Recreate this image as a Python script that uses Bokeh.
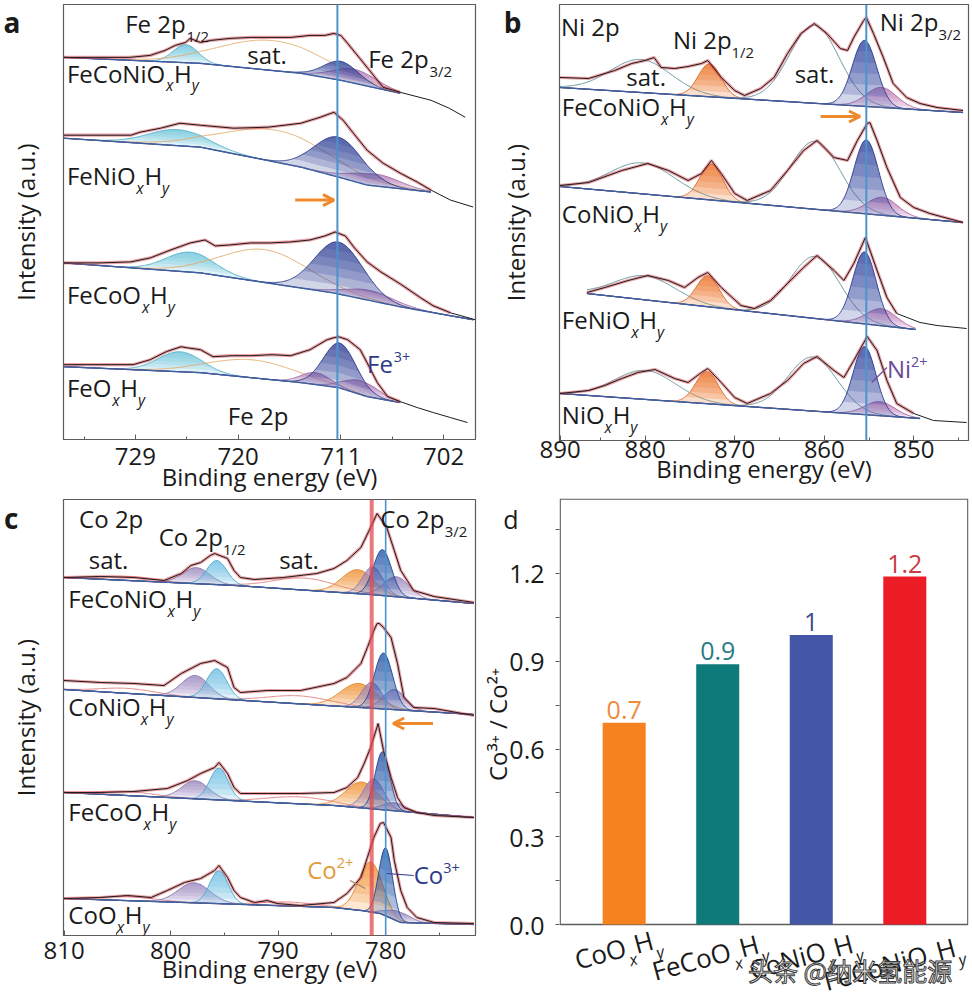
import numpy as np
from math import cos, sin, radians, pi
from bokeh.plotting import figure
from bokeh.layouts import row, column
from bokeh.models import Range1d, FixedTicker, Label, Span, Arrow, OpenHead, PrintfTickFormatter
from bokeh.embed import file_html
from bokeh.resources import INLINE

FONT = "Open Sans"
CJK_FONT = "Noto Sans CJK SC"
INK = "#1a1a1a"
FRAME = "#5c5c5c"
ORANGE = "#EE8A2C"
NBSP = "\u00a0"

# ------------------------------------------------------------------ data
# Panel a : Fe 2p  (binding energy eV, intensity a.u.)
A_SAMPLES = ["FeCoNiO", "FeNiO", "FeCoO", "FeO"]
A_LABEL_Y = [358, 255, 136, 43]
A1_DATA = [(735.3, 383), (732.1, 383), (729.5, 383), (727.7, 385), (726.4, 390), (725.5, 395), (724.6, 398),
           (724.2, 402), (723.3, 398), (722.4, 400), (720.7, 402), (718.9, 403), (717.2, 403), (715.4, 403),
           (713.7, 405), (712.4, 405), (711.6, 407), (711.0, 405), (710.4, 397), (708.7, 373), (707.3, 353),
           (705.8, 348), (703.1, 340), (701.5, 332), (700.1, 323)]
A1_BASE = [(735.3, 383), (723.3, 377), (714.5, 367), (711.0, 360), (705.8, 347)]
A1_PEAKS = [("fe_cyan", 724.6, 18, 2.6), ("fe_sat", 717.0, 30, 11.0), ("fe_pink", 709.8, 14, 4.5),
            ("fe_main", 711.0, 19, 3.6)]
A2_DATA = [(735.3, 305), (732.1, 305), (729.4, 305), (728.6, 308), (726.8, 312), (725.1, 317), (723.3, 315),
           (720.4, 312), (717.4, 313), (714.5, 317), (712.8, 323), (711.6, 328), (710.8, 320), (709.9, 307),
           (708.7, 290), (707.3, 277), (705.8, 267), (704.3, 258), (703.1, 250), (701.4, 240), (699.4, 233)]
A2_BASE = [(735.3, 302), (723.3, 293), (714.5, 273), (711.2, 263), (708.7, 255), (703.1, 248)]
A2_PEAKS = [("fe_cyan", 725.3, 16, 6.0), ("fe_sat", 716.5, 32, 11.0), ("fe_pink", 708.0, 12, 5.0),
            ("fe_main", 711.2, 40, 5.0)]
A3_DATA = [(735.3, 177), (732.1, 177), (729.4, 178), (727.7, 182), (725.9, 190), (724.2, 197), (722.9, 200),
           (722.0, 194), (720.7, 195), (718.9, 197), (717.2, 197), (715.4, 198), (713.7, 200), (712.4, 204),
           (711.5, 208), (710.6, 204), (709.8, 192), (708.7, 178), (707.5, 168), (705.8, 156), (704.0, 142),
           (702.9, 134), (701.4, 127), (699.2, 120)]
A3_BASE = [(735.3, 177), (723.3, 167), (711.7, 147), (705.8, 133), (699.4, 120)]
A3_PEAKS = [("fe_cyan", 724.2, 20, 5.0), ("fe_sat", 717.6, 33, 9.0), ("fe_pink", 708.5, 10, 5.0),
            ("fe_main", 711.2, 52, 5.0)]
A4_DATA = [(735.3, 75), (732.0, 75), (729.2, 75), (727.7, 80), (726.3, 88), (725.0, 93), (724.5, 92), (723.3, 90),
           (722.2, 83), (720.5, 84), (718.9, 84), (717.0, 85), (715.4, 84), (713.7, 90), (712.2, 100), (711.6, 102),
           (711.2, 103), (710.4, 100), (709.3, 90), (708.7, 77), (707.8, 57), (706.9, 43), (705.8, 38), (704.3, 32),
           (702.9, 27), (701.4, 22), (699.9, 17)]
A4_BASE = [(735.3, 73), (723.3, 67), (714.5, 57), (711.2, 52), (708.7, 43), (705.8, 37)]
A4_PEAKS = [("fe_cyan", 725.1, 20, 4.5), ("fe_sat", 718.7, 18, 9.0), ("fe_pink", 713.2, 12, 3.0),
            ("fe_pink", 709.2, 14, 3.5), ("fe_main", 711.1, 45, 3.4)]
A_TICKS = [729, 720, 711, 702]
A_MINOR = [733.5, 724.5, 715.5, 706.5]
A_LINE = 711.3

# Panel b : Ni 2p
B_SAMPLES = ["FeCoNiO", "CoNiO", "FeNiO", "NiO"]
B_LABEL_Y = [325, 218, 112, 17]
B1_DATA = [(889.5, 363), (886.3, 362), (883.4, 370), (881.5, 377), (880.0, 380), (879.0, 383), (878.2, 373),
           (876.7, 372), (875.2, 374), (873.7, 377), (873.0, 380), (871.5, 363), (870.0, 350), (868.9, 345),
           (867.1, 352), (865.6, 363), (864.1, 387), (862.6, 407), (861.1, 417), (859.7, 407), (858.2, 392),
           (857.4, 390), (856.7, 403), (855.6, 420), (855.3, 423), (854.5, 407), (853.4, 383), (852.3, 357),
           (850.8, 343), (849.3, 337), (847.4, 333), (844.5, 330)]
B1_BASE = [(889.5, 353), (844.5, 328)]
B1_PEAKS = [("ni_sat", 880.5, 33, 8.0), ("ni_orange", 872.8, 33, 3.0), ("ni_sat", 861.1, 78, 6.5),
            ("ni_pink", 853.6, 20, 4.0), ("ni_main", 855.5, 66, 3.2)]
B2_DATA = [(889.5, 255), (886.3, 258), (882.6, 270), (879.7, 277), (877.4, 270), (875.2, 260), (873.7, 267),
           (872.6, 280), (871.5, 267), (870.0, 247), (868.6, 240), (866.0, 250), (864.1, 270), (862.3, 290),
           (860.8, 300), (858.9, 283), (857.4, 280), (856.3, 300), (855.2, 317), (854.9, 318), (854.1, 300),
           (853.0, 273), (851.5, 243), (850.0, 233), (848.2, 227), (844.5, 218)]
B2_BASE = [(889.5, 254), (844.5, 218)]
B2_PEAKS = [("ni_sat", 880.3, 31, 8.5), ("ni_orange", 872.6, 36, 3.0), ("ni_sat", 861.0, 68, 6.5),
            ("ni_pink", 853.5, 18, 4.0), ("ni_main", 855.3, 74, 3.2)]
B3_DATA = [(886.5, 148), (884.5, 153), (881.9, 160), (879.7, 165), (877.4, 160), (875.6, 153), (874.1, 163),
           (873.0, 168), (871.5, 153), (869.3, 135), (867.8, 132), (866.0, 140), (864.1, 157), (862.3, 173),
           (860.8, 185), (858.9, 170), (857.8, 160), (856.7, 177), (855.4, 203), (854.1, 170), (853.0, 143),
           (851.9, 127), (849.3, 118), (847.4, 115), (844.1, 112)]
B3_BASE = [(886.5, 147), (849.8, 111)]
B3_PEAKS = [("ni_sat", 880.0, 24, 8.0), ("ni_orange", 873.0, 31, 3.0), ("ni_sat", 861.0, 62, 6.5),
            ("ni_pink", 853.6, 17, 4.0), ("ni_main", 855.5, 72, 3.1)]
B4_DATA = [(889.5, 47), (886.3, 50), (884.5, 55), (882.6, 62), (880.8, 68), (878.9, 71), (876.7, 62), (875.2, 58),
           (873.7, 68), (873.0, 72), (871.5, 58), (870.0, 43), (868.6, 37), (866.0, 47), (864.1, 60), (862.3, 77),
           (860.8, 84), (858.9, 70), (857.8, 63), (856.7, 80), (855.2, 104), (854.1, 90), (853.0, 60), (851.9, 37),
           (850.0, 27), (847.8, 20), (844.1, 18)]
B4_BASE = [(889.5, 47), (849.3, 22)]
B4_PEAKS = [("ni_sat", 880.0, 29, 8.0), ("ni_orange", 873.1, 32, 3.0), ("ni_sat", 861.3, 54, 6.5),
            ("ni_pink", 853.8, 14, 4.0), ("ni_main", 855.5, 68, 3.0)]
B_TICKS = [889.5, 880, 870, 860, 850]
B_TICK_TEXT = {889.5: "890"}
B_MINOR = [885, 875, 865, 855, 845]
B_LINE = 855.3

# Panel c : Co 2p
C_SAMPLES = ["FeCoNiO", "CoNiO", "FeCoO", "CoO"]
C_LABEL_Y = [328, 220, 115, 12]
C1_DATA = [(809.9, 358), (806.5, 359), (803.4, 358), (800.6, 355), (799.0, 362), (798.1, 370), (797.2, 373),
           (796.3, 380), (795.9, 382), (794.7, 377), (794.1, 365), (793.5, 358), (792.2, 356), (789.5, 358),
           (786.4, 362), (784.8, 367), (783.6, 375), (782.3, 388), (781.4, 408), (780.8, 422), (779.9, 408),
           (779.2, 385), (778.6, 365), (777.4, 345), (775.5, 339), (771.8, 333)]
C1_BASE = [(809.9, 358), (794.0, 350), (781.5, 341), (771.8, 332)]
C1_PEAKS = [("co_sat", 804.0, 4, 6.0), ("co_sat", 787.5, 12, 7.0), ("co_lilac", 797.6, 16, 3.0),
            ("co_cyan", 795.7, 24, 2.2), ("co_orange", 782.6, 24, 3.5), ("co_lilac", 781.2, 28, 2.2),
            ("co_lilac", 779.0, 20, 2.8), ("co_blue", 780.3, 46, 2.0)]
C2_DATA = [(809.9, 255), (806.5, 253), (803.4, 252), (800.6, 250), (799.0, 262), (797.2, 272), (795.9, 275),
           (794.7, 268), (794.1, 248), (793.5, 243), (791.0, 245), (787.9, 245), (784.8, 252), (783.6, 258),
           (782.3, 272), (781.7, 288), (781.1, 305), (780.8, 312), (780.6, 312), (780.2, 308), (779.5, 298),
           (778.9, 272), (778.3, 238), (777.4, 228), (775.5, 227), (771.8, 220)]
C2_BASE = [(809.9, 246), (771.8, 221)]
C2_PEAKS = [("co_sat", 804.0, 5, 6.0), ("co_sat", 788.0, 8, 7.0), ("co_lilac", 797.7, 22, 3.0),
            ("co_cyan", 795.7, 30, 2.2), ("co_orange", 782.5, 24, 4.0), ("co_lilac", 781.3, 26, 2.2),
            ("co_lilac", 779.2, 20, 2.5), ("co_blue", 780.2, 56, 2.0)]
C3_DATA = [(809.9, 143), (806.5, 143), (803.4, 144), (800.3, 147), (798.4, 155), (797.2, 162), (795.9, 168),
           (795.5, 173), (794.7, 162), (794.1, 148), (793.5, 142), (791.0, 142), (787.9, 142), (784.8, 143),
           (783.6, 148), (782.6, 158), (782.0, 172), (781.4, 188), (780.7, 212), (780.2, 185), (779.5, 158),
           (778.9, 138), (778.3, 128), (777.1, 123), (775.5, 120), (771.8, 118)]
C3_BASE = [(809.9, 143), (784.8, 130), (781.7, 127), (771.8, 118)]
C3_PEAKS = [("co_sat", 804.0, 4, 6.0), ("co_sat", 788.0, 7, 7.0), ("co_lilac", 797.7, 18, 3.0),
            ("co_cyan", 795.5, 32, 2.0), ("co_orange", 782.2, 26, 3.5), ("co_lilac", 781.1, 30, 2.2),
            ("co_lilac", 779.2, 8, 2.5), ("co_blue", 780.3, 58, 1.6)]
C4_DATA = [(809.9, 37), (806.5, 38), (804.0, 40), (801.8, 38), (800.3, 45), (798.7, 53), (797.2, 57), (795.9, 65),
           (795.5, 70), (794.7, 58), (794.1, 45), (793.5, 38), (792.2, 33), (791.0, 35), (790.1, 32), (787.9, 30),
           (784.8, 33), (783.6, 42), (782.3, 58), (781.7, 78), (781.1, 98), (780.5, 112), (780.2, 113), (779.5, 98),
           (779.2, 75), (778.6, 45), (778.0, 28), (777.1, 18), (775.5, 13), (771.8, 12)]
C4_BASE = [(809.9, 37), (784.8, 28), (782.3, 25), (780.5, 22), (778.6, 13), (771.8, 11)]
C4_PEAKS = [("co_sat", 804.0, 4, 6.0), ("co_sat", 789.0, 4, 6.0), ("co_lilac", 797.8, 20, 3.5),
            ("co_cyan", 795.5, 33, 2.0), ("co_orange", 781.4, 50, 2.6), ("co_lilac", 778.8, 10, 2.5),
            ("co_blue", 780.0, 68, 1.5)]
C_TICKS = [809.9, 800, 790, 780]
C_TICK_TEXT = {809.9: "810"}
C_MINOR = [805, 795, 785, 775]
C_LINE_CO2 = 781.3
C_LINE_CO3 = 780.0

# Panel d : Co3+/Co2+ ratio
D_CATEGORIES = ["CoO", "FeCoO", "CoNiO", "FeCoNiO"]
D_VALUES = [0.69, 0.89, 0.99, 1.19]
D_LABELS = ["0.7", "0.9", "1", "1.2"]
D_COLORS = ["#F5821F", "#0E7B7A", "#4457A6", "#EC1C24"]
D_LABEL_COLORS = ["#F08A3C", "#2C7A86", "#3E4B8C", "#C93A42"]
D_TICKS = [0.0, 0.3, 0.6, 0.9, 1.2]
D_MINOR = [0.15, 0.45, 0.75, 1.05, 1.35]
BAR_X = [1, 2, 3, 4]

# ------------------------------------------------------------------ styles
STYLES = {
    "fe_main": dict(color="#2F3F98", edge="#2C3A88", fill=True),
    "fe_pink": dict(color="#B47CB6", edge="#A070A8", fill=True),
    "fe_cyan": dict(color="#6EC6DC", edge="#52AFCB", fill=True),
    "fe_sat": dict(color="#F0B070", edge="#E3A868", fill=False),
    "ni_main": dict(color="#3444A0", edge="#2F3E90", fill=True),
    "ni_pink": dict(color="#C07AB8", edge="#A868A0", fill=True),
    "ni_orange": dict(color="#EE6F22", edge="#D86A2A", fill=True),
    "ni_sat": dict(color="#5B8E98", edge="#5B8E98", fill=False),
    "co_blue": dict(color="#2456A8", edge="#224A90", fill=True),
    "co_lilac": dict(color="#9A88C0", edge="#8A78B0", fill=True),
    "co_cyan": dict(color="#6EC0E2", edge="#4FA6CC", fill=True),
    "co_orange": dict(color="#F39332", edge="#E0892E", fill=True),
    "co_sat": dict(color="#E58080", edge="#E07A7A", fill=False),
}
NBANDS = 6
BAND_ALPHA = 0.22
BASE_COLOR = "#3F5F9F"
MID = 0.388   # box-middle above baseline, in em

ADV = {'F': .549, 'e': .561, 'C': .634, 'o': .604, 'N': .748, 'i': .253, 'O': .781, 'H': .738, 'x': .524,
       'y': .499, ' ': .26, '2': .572, 'p': .613, '/': .373, '1': .572, '3': .572, '+': .572, 's': .477,
       'a': .556, 't': .351, '.': .266}


def text_width(s, size):
    return sum(ADV.get(ch, 0.58) for ch in s) * size


def piece_style(mode, size):
    if mode == "sub":
        return size * 0.64, -size * 0.4, "italic"
    if mode == "subn":
        return size * 0.62, -size * 0.38, "normal"
    if mode == "sup":
        return size * 0.6, size * 0.42, "normal"
    return size, 0.0, "normal"


def rich_text(p, x, y, parts, size=24, color=INK, angle=0.0, ox=0.0, oy=0.0):
    """Text with sub/superscripts; (x, y) is the baseline start of the first piece."""
    ca, sa = cos(angle), sin(angle)
    adv = 0.0
    for txt, mode in parts:
        fs, shift, style = piece_style(mode, size)
        up = shift + MID * fs
        dx = ox + adv * ca - up * sa
        dy = oy + adv * sa + up * ca
        p.add_layout(Label(x=x, y=y, x_offset=dx, y_offset=dy, text=txt, angle=angle,
                           text_font=FONT, text_font_size=f"{fs:.1f}px", text_font_style=style,
                           text_color=color, text_align="left", text_baseline="middle"))
        adv += text_width(txt, fs)
    return adv


def parts_width(parts, size):
    return sum(text_width(t, piece_style(m, size)[0]) for t, m in parts)


def sample_parts(name):
    return [(name, "n"), ("x", "sub"), ("H", "n"), ("y", "sub")]


def plain(p, x, y, text, size=24, color=INK, align="left"):
    p.add_layout(Label(x=x, y=y, y_offset=MID * size, text=text, text_font=FONT, text_font_size=f"{size}px",
                       text_color=color, text_align=align, text_baseline="middle"))


def draw_spectrum(p, data, base, peaks):
    de = np.array([d[0] for d in data]); di = np.array([d[1] for d in data])
    be = np.array([b[0] for b in base]); bi = np.array([b[1] for b in base])
    order = np.argsort(be)
    lo, hi = be.min(), be.max()
    grid = np.linspace(lo, hi, 360)
    bg = np.interp(grid, be[order], bi[order])
    for kind, c, h, w in peaks:
        st = STYLES[kind]
        comp = h * np.exp(-4 * np.log(2) * (grid - c) ** 2 / w ** 2)
        if st["fill"]:
            for k in range(NBANDS):
                lvl = h * k / NBANDS
                p.varea(x=grid, y1=bg + np.minimum(comp, lvl), y2=bg + comp,
                        fill_color=st["color"], fill_alpha=BAND_ALPHA)
        p.line(grid, bg + comp, line_color=st["edge"], line_width=1.0, line_alpha=0.9)
    p.line(grid, bg, line_color=BASE_COLOR, line_width=1.4)
    fit = (de >= lo - 0.01) & (de <= hi + 0.01)
    p.line(de[fit], di[fit], line_color="#D8464F", line_width=3.2, line_alpha=0.5)
    p.line(de, di, line_color="#1c1c1c", line_width=1.0)


def spec_fig(width, height, xr, ticks, minor, overrides, borders, letter, letter_y, letter_standoff,
             ylab_standoff, tick_standoff, xlab_standoff):
    left, right, top, bottom = borders
    p = figure(width=width, height=height, x_range=Range1d(*xr), y_range=Range1d(0, 436),
               output_backend="svg", toolbar_location=None,
               min_border_left=left, min_border_right=right, min_border_top=top, min_border_bottom=bottom)
    p.grid.visible = False
    p.outline_line_color = FRAME
    p.outline_line_width = 1.2
    ax = p.xaxis[0]
    ax.ticker = FixedTicker(ticks=ticks, minor_ticks=minor)
    ax.major_label_overrides = overrides
    ax.major_tick_in = 5; ax.major_tick_out = 0
    ax.minor_tick_in = 3; ax.minor_tick_out = 0
    ax.axis_line_color = FRAME
    ax.major_tick_line_color = FRAME
    ax.minor_tick_line_color = FRAME
    ax.major_label_text_font = FONT
    ax.major_label_text_font_size = "24px"
    ax.major_label_text_color = INK
    ax.major_label_standoff = tick_standoff
    ax.axis_label = "Binding energy (eV)"
    ax.axis_label_text_font = FONT
    ax.axis_label_text_font_size = "24px"
    ax.axis_label_text_font_style = "normal"
    ax.axis_label_text_color = INK
    ax.axis_label_standoff = xlab_standoff
    ya = p.yaxis[0]
    ya.ticker = FixedTicker(ticks=[letter_y], minor_ticks=[])
    ya.major_label_overrides = {letter_y: letter}
    ya.major_label_text_font = FONT
    ya.major_label_text_font_size = "28px"
    ya.major_label_text_font_style = "bold"
    ya.major_label_text_color = INK
    ya.major_label_standoff = letter_standoff
    ya.major_tick_in = 0; ya.major_tick_out = 0
    ya.minor_tick_in = 0; ya.minor_tick_out = 0
    ya.major_tick_line_color = None
    ya.minor_tick_line_color = None
    ya.axis_line_color = None
    ya.axis_label = "Intensity (a.u.)"
    ya.axis_label_text_font = FONT
    ya.axis_label_text_font_size = "24px"
    ya.axis_label_text_font_style = "normal"
    ya.axis_label_text_color = INK
    ya.axis_label_standoff = ylab_standoff
    return p


# ------------------------------------------------------------------ panel a
pa = spec_fig(478, 495, (735.3, 699.2), A_TICKS, A_MINOR, {}, (63, 3, 4, 55), "a", 423, 43, -41, 8, -8)
for d_, b_, k_ in [(A1_DATA, A1_BASE, A1_PEAKS), (A2_DATA, A2_BASE, A2_PEAKS),
                   (A3_DATA, A3_BASE, A3_PEAKS), (A4_DATA, A4_BASE, A4_PEAKS)]:
    draw_spectrum(pa, d_, b_, k_)
pa.add_layout(Span(location=A_LINE, dimension="height", line_color="#4B93CC", line_width=2))
for name, y in zip(A_SAMPLES, A_LABEL_Y):
    rich_text(pa, 735.0, y, sample_parts(name))
rich_text(pa, 729.9, 408, [("Fe 2p", "n"), ("1/2", "subn")])
plain(pa, 719.2, 377, "sat.")
rich_text(pa, 708.6, 373, [("Fe 2p", "n"), ("3/2", "subn")])
plain(pa, 720.9, 15, "Fe 2p")
rich_text(pa, 708.7, 67, [("Fe", "n"), ("3+", "sup")], color="#2D3A8A")
pa.add_layout(Arrow(end=OpenHead(line_color=ORANGE, line_width=3, size=11), x_start=715.0, y_start=240,
                    x_end=711.6, y_end=240, line_color=ORANGE, line_width=3))

# ------------------------------------------------------------------ panel b
pb = spec_fig(494, 495, (889.56, 843.89), B_TICKS, B_MINOR, B_TICK_TEXT, (79, 4, 4, 55), "b", 423, 38, -31,
              0, -9)
for d_, b_, k_ in [(B1_DATA, B1_BASE, B1_PEAKS), (B2_DATA, B2_BASE, B2_PEAKS),
                   (B3_DATA, B3_BASE, B3_PEAKS), (B4_DATA, B4_BASE, B4_PEAKS)]:
    draw_spectrum(pb, d_, b_, k_)
pb.add_layout(Span(location=B_LINE, dimension="height", line_color="#4B93CC", line_width=2))
for name, y in zip(B_SAMPLES, B_LABEL_Y):
    rich_text(pb, 889.3, y, sample_parts(name))
plain(pb, 889.4, 405, "Ni 2p")
rich_text(pb, 876.9, 392, [("Ni 2p", "n"), ("1/2", "subn")])
plain(pb, 882.1, 355, "sat.")
plain(pb, 863.3, 358, "sat.")
rich_text(pb, 853.8, 410, [("Ni 2p", "n"), ("3/2", "subn")])
pb.line([854.7, 853.0], [58, 73], line_color="#6A4B9A", line_width=1.2)
rich_text(pb, 853.0, 63, [("Ni", "n"), ("2+", "sup")], color="#6A4B9A")
pb.add_layout(Arrow(end=OpenHead(line_color=ORANGE, line_width=3, size=11), x_start=860.4, y_start=324,
                    x_end=856.0, y_end=324, line_color=ORANGE, line_width=3))

# ------------------------------------------------------------------ panel c
pc = spec_fig(478, 505, (809.95, 771.65), C_TICKS, C_MINOR, C_TICK_TEXT, (63, 3, 4, 65), "c", 418, 45, -41,
              6, -10)
for d_, b_, k_ in [(C1_DATA, C1_BASE, C1_PEAKS), (C2_DATA, C2_BASE, C2_PEAKS),
                   (C3_DATA, C3_BASE, C3_PEAKS), (C4_DATA, C4_BASE, C4_PEAKS)]:
    draw_spectrum(pc, d_, b_, k_)
pc.add_layout(Span(location=C_LINE_CO2, dimension="height", line_color="#E24A52", line_width=4, line_alpha=0.75))
pc.add_layout(Span(location=C_LINE_CO3, dimension="height", line_color="#4B93CC", line_width=1.6))
for name, y in zip(C_SAMPLES, C_LABEL_Y):
    rich_text(pc, 809.5, y, sample_parts(name))
plain(pc, 808.5, 408, "Co 2p")
rich_text(pc, 801.1, 390, [("Co 2p", "n"), ("1/2", "subn")])
plain(pc, 807.6, 367, "sat.")
plain(pc, 789.9, 367, "sat.")
rich_text(pc, 780.5, 408, [("Co 2p", "n"), ("3/2", "subn")])
pc.line([783.3, 781.9], [55, 47], line_color="#A08060", line_width=1.2)
rich_text(pc, 787.3, 57, [("Co", "n"), ("2+", "sup")], color="#E39A3B")
pc.line([779.9, 777.4], [62, 60], line_color="#2D3A8A", line_width=1.2)
rich_text(pc, 777.4, 52, [("Co", "n"), ("3+", "sup")], color="#2D3A8A")
pc.add_layout(Arrow(end=OpenHead(line_color=ORANGE, line_width=3, size=11), x_start=775.6, y_start=212,
                    x_end=779.3, y_end=212, line_color=ORANGE, line_width=3))

# ------------------------------------------------------------------ panel d
D_X0, D_X1 = 0.3085, 4.6809
D_Y1, D_Y0 = 1.4564, -0.2598
D_PX_X, D_PX_Y = 94.0, 292.5
D_LETTER_Y = 1.387
pd = figure(width=494, height=505, x_range=Range1d(D_X0, D_X1), y_range=Range1d(D_Y0, D_Y1),
            x_axis_location=None, output_backend="svg", toolbar_location=None,
            min_border_left=79, min_border_right=4, min_border_top=3, min_border_bottom=0)
pd.grid.visible = False
pd.outline_line_color = None
ya = pd.yaxis[0]
ya.ticker = FixedTicker(ticks=D_TICKS + [D_LETTER_Y], minor_ticks=D_TICKS + D_MINOR)
ya.formatter = PrintfTickFormatter(format="%.1f")
ya.major_label_overrides = {D_LETTER_Y: "d" + NBSP * 4}
ya.major_tick_out = 0; ya.major_tick_in = 0
ya.minor_tick_out = 4; ya.minor_tick_in = 0
ya.axis_line_color = None
ya.minor_tick_line_color = FRAME
ya.major_label_text_font = FONT
ya.major_label_text_font_size = "25px"
ya.major_label_text_color = INK
ya.major_label_standoff = 11
# leading no-break spaces lift the centred label to the visible box's middle
ya.axis_label = NBSP * 8 + "Co³⁺ / Co²⁺"
ya.axis_label_text_font = FONT
ya.axis_label_text_font_size = "24px"
ya.axis_label_text_font_style = "normal"
ya.axis_label_text_color = INK
ya.axis_label_standoff = -14
# visible plot box (the frame extends below it to hold the rotated category labels)
ex, ey = 0.7 / D_PX_X, 0.7 / D_PX_Y
pd.line([D_X0 + ex, D_X0 + ex, D_X1 - ex, D_X1 - ex, D_X0 + ex], [0, D_Y1 - ey, D_Y1 - ey, 0, 0],
        line_color=FRAME, line_width=1.3)
pd.vbar(x=BAR_X, top=D_VALUES, width=0.46, fill_color=D_COLORS, line_color=None)
for x_, v_, lab, col in zip(BAR_X, D_VALUES, D_LABELS, D_LABEL_COLORS):
    pd.add_layout(Label(x=x_, y=v_, y_offset=3 + MID * 25, text=lab, text_font=FONT, text_font_size="25px",
                        text_color=col, text_align="center", text_baseline="middle"))
theta = radians(15)
ux, uy = cos(theta), sin(theta)
vx, vy = -sin(theta), cos(theta)
CAT_SIZE = 26
CAT_SHIFT = [-6.0, -8.0, -6.0, -11.0]
for x_, name, shift_x in zip(BAR_X, D_CATEGORIES, CAT_SHIFT):
    parts = sample_parts(name)
    W = parts_width(parts, CAT_SIZE)
    cx, cy = shift_x, -(2 + 0.26 * W)
    sx = cx - W / 2 * ux - 0.35 * CAT_SIZE * vx
    sy = cy - W / 2 * uy - 0.35 * CAT_SIZE * vy
    rich_text(pd, x_, 0, parts, size=CAT_SIZE, angle=theta, ox=sx, oy=sy)
pd.add_layout(Label(x=3.415, y=-0.157, text="头条 @纳米氢能源", text_font=CJK_FONT, text_font_size="25px",
                    text_color="white", text_outline_color="#3a3a3a", text_align="center",
                    text_baseline="middle"))

layout = row(column(pa, pc), column(pb, pd))
open("out.html", "w").write(file_html(layout, INLINE))
